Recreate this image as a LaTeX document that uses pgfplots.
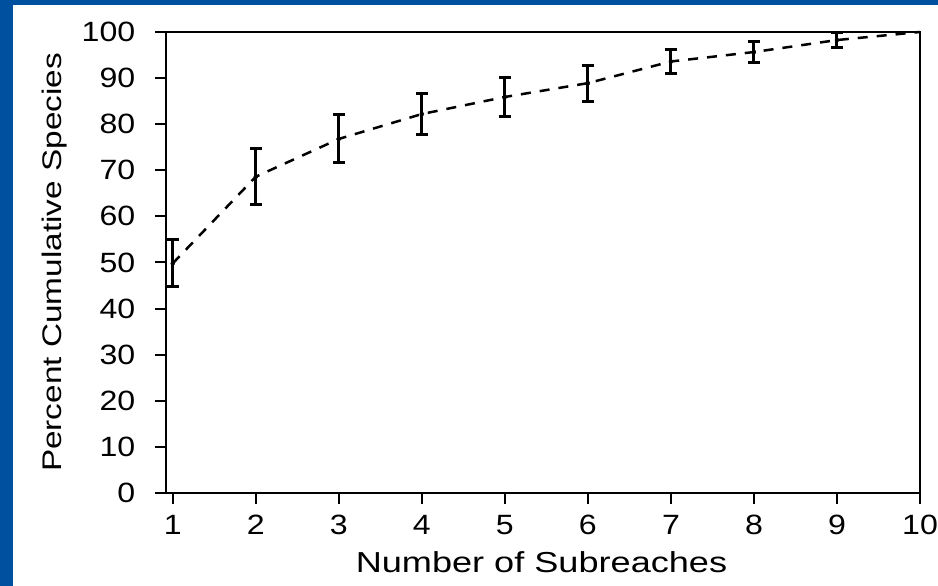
\documentclass[border=0pt]{standalone}
\usepackage{pgfplots}
\pgfplotsset{compat=1.18}
\usepackage{fontspec}
\setmainfont{Liberation Sans}
\definecolor{slideblue}{RGB}{0,80,160}
\begin{document}
\begin{tikzpicture}[x=1bp,y=1bp]
\useasboundingbox (0,0) rectangle (938,586);
\clip (0,0) rectangle (938,586);
\fill[slideblue] (0,0) rectangle (938,586);
\fill[white] (13,0) rectangle (938,581);
\begin{axis}[
  at={(166bp,93bp)}, anchor=south west,
  scale only axis, width=754bp, height=461bp,
  xmin=0.919, xmax=10, ymin=0, ymax=100,
  xtick={1,...,10}, ytick={0,10,...,100},
  xtick pos=bottom, ytick pos=left,
  tick align=outside, major tick length=11bp,
  every tick/.style={black, line width=2bp},
  axis line style={black, line width=2bp},
  /pgf/number format/assume math mode=true,
  tick label style={font=\fontsize{28}{32}\selectfont, xscale=1.15, inner sep=0pt},
  yticklabel style={anchor=east, xshift=-17bp},
  xticklabel style={anchor=north, yshift=-11bp},
  xlabel={Number of Subreaches},
  ylabel={Percent Cumulative Species},
  xlabel style={font=\fontsize{29}{34}\selectfont, at={(axis description cs:0.498,-0.1258)}, anchor=north, inner sep=0pt, xscale=1.25},
  ylabel style={font=\fontsize{27}{32}\selectfont, at={(axis description cs:-0.1645,0.5)}, anchor=north, inner sep=0pt, rotate=0, xscale=1.24},
  clip=false,
]
\addplot[black, line width=2.5bp, dash pattern=on 10bp off 9bp, mark=none]
coordinates {(1,49.8) (2,68.6) (3,76.8) (4,82.2) (5,85.9) (6,88.9) (7,93.6) (8,95.65) (9,98.25) (10,100)};
\addplot[only marks, mark=none,
  error bars/.cd, y dir=both, y explicit,
  error bar style={black, solid, line width=3bp},
  error mark options={rotate=90, mark size=6bp, line width=3bp, black}]
coordinates {
(1,49.8) +- (0,5.1)
(2,68.6) +- (0,6.1)
(3,76.8) +- (0,5.2)
(4,82.2) +- (0,4.5)
(5,85.9) +- (0,4.3)
(6,88.9) +- (0,3.9)
(7,93.6) +- (0,2.5)
(8,95.65) +- (0,2.2)
(9,98.25) +- (0,1.6)
};
\end{axis}
\end{tikzpicture}
\end{document}
